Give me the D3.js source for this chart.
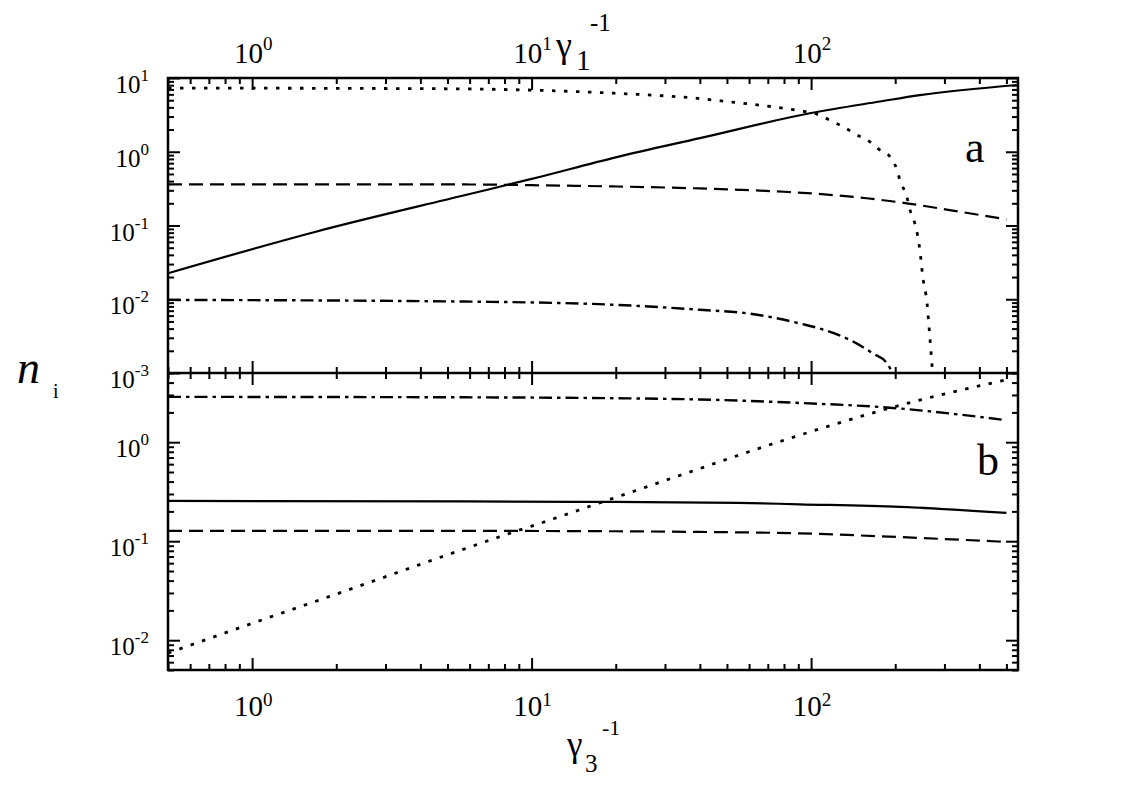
<!DOCTYPE html>
<html><head><meta charset="utf-8">
<script src="https://cdn.jsdelivr.net/npm/d3@7"></script>
</head><body style="margin:0;background:#fff">
<svg id="c" width="1132" height="789"></svg>
<script>
// ---------- data ----------
const xDomain = [0.5, 550];
const yDomainA = [0.001, 10];
const yDomainB = [0.005, 5];
const xMajorTicks = [1, 10, 100];
const xTickLabels = ["0", "1", "2"];            // exponents of 10
const yMajorTicksA = [10, 1, 0.1, 0.01, 0.001];
const yTickLabelsA = ["1", "0", "-1", "-2", "-3"];
const yMajorTicksB = [1, 0.1, 0.01];
const yTickLabelsB = ["0", "-1", "-2"];

// panel a
const aSolidX   = [0.5, 1.69, 5.8, 10, 20, 40, 100, 176, 245, 550];
const aSolidY   = [0.0225, 0.0824, 0.259, 0.428, 0.84, 1.53, 3.35, 4.8, 5.87, 8.04];
const aDotX     = [0.5, 3, 6, 10, 20, 37, 50, 90, 103, 120, 130, 146, 162, 176, 194, 203, 208, 220, 226, 235, 241, 245, 251, 260, 266, 271, 272];
const aDotY     = [7.3, 7.2, 7.1, 6.85, 6.2, 5.4, 4.8, 3.62, 3.3, 2.55, 2.19, 1.69, 1.37, 1.06, 0.81, 0.566, 0.41, 0.246, 0.162, 0.107, 0.0705, 0.0466, 0.0202, 0.0088, 0.0031, 0.00122, 0.001];
const aDashX    = [0.5, 5.8, 10, 20, 40, 55, 80, 158, 220, 313, 500];
const aDashY    = [0.362, 0.36, 0.352, 0.338, 0.318, 0.305, 0.287, 0.234, 0.200, 0.162, 0.121];
const aDashDotX = [0.5, 5.8, 20, 40, 60, 91, 120, 146, 166, 187, 196];
const aDashDotY = [0.0098, 0.0093, 0.0084, 0.0072, 0.0064, 0.0047, 0.0035, 0.0025, 0.00185, 0.00135, 0.001];

// panel b
const bDotX     = [0.5, 1, 2, 5.5, 8.86, 10, 18, 40, 55, 100, 208, 493];
const bDotY     = [0.0074, 0.0148, 0.0292, 0.080, 0.127, 0.142, 0.25, 0.542, 0.739, 1.28, 2.36, 4.23];
const bDashDotX = [0.5, 5.8, 20, 40, 91, 208, 313, 500];
const bDashDotY = [2.87, 2.84, 2.78, 2.70, 2.49, 2.19, 1.95, 1.67];
const bSolidX   = [0.5, 5.8, 20, 55, 91, 208, 500];
const bSolidY   = [0.255, 0.252, 0.249, 0.244, 0.236, 0.222, 0.193];
const bDashX    = [0.5, 5.8, 20, 40, 91, 208, 500];
const bDashY    = [0.127, 0.127, 0.126, 0.124, 0.120, 0.110, 0.0984];

// ---------- layout ----------
const FONT = "Liberation Serif";
const L = 168, R = 1018, T = 78, M = 373, B = 670;
const svg = d3.select("#c");
const x  = d3.scaleLog().domain(xDomain).range([L, R]);
const yA = d3.scaleLog().domain(yDomainA).range([M, T]);
const yB = d3.scaleLog().domain(yDomainB).range([B, M]);

const isMajor = v => Math.abs(Math.log10(v) - Math.round(Math.log10(v))) < 1e-6;
const xMinor  = x.ticks().filter(v => !isMajor(v));
const yAMinor = yA.ticks().filter(v => !isMajor(v));
const yBMinor = yB.ticks().filter(v => !isMajor(v));

function ticks(axisFn, scale, vals, size, tx, ty) {
  svg.append("g").attr("transform", `translate(${tx},${ty})`)
    .call(axisFn(scale).tickValues(vals).tickSize(size).tickFormat(""))
    .call(g => g.select(".domain").remove())
    .selectAll("line").attr("stroke", "#000").attr("stroke-width", 2);
}
const MAJ = 12, MIN = 6;
[[d3.axisTop, T], [d3.axisBottom, B], [d3.axisBottom, M], [d3.axisTop, M]].forEach(([f, y]) => {
  ticks(f, x, xMajorTicks, -MAJ, 0, y);
  ticks(f, x, xMinor, -MIN, 0, y);
});
[[yA, yMajorTicksA, yAMinor], [yB, yMajorTicksB, yBMinor]].forEach(([s, maj, mn]) => {
  ticks(d3.axisLeft, s, maj, -MAJ, L, 0);
  ticks(d3.axisLeft, s, mn, -MIN, L, 0);
  ticks(d3.axisRight, s, maj, -MAJ, R, 0);
  ticks(d3.axisRight, s, mn, -MIN, R, 0);
});

// frame
svg.append("rect").attr("x", L).attr("y", T).attr("width", R - L).attr("height", B - T)
  .attr("fill", "none").attr("stroke", "#000").attr("stroke-width", 2.5);
svg.append("line").attr("x1", L).attr("x2", R).attr("y1", M).attr("y2", M)
  .attr("stroke", "#000").attr("stroke-width", 2.5);

const defs = svg.append("defs");
defs.append("clipPath").attr("id", "clipA").append("rect").attr("x", L).attr("y", T).attr("width", R - L).attr("height", M - T);
defs.append("clipPath").attr("id", "clipB").append("rect").attr("x", L).attr("y", M).attr("width", R - L).attr("height", B - M);

function series(xs, ys, yScale, clip, dash, w) {
  const data = xs.map((v, i) => [v, ys[i]]);
  const line = d3.line().x(d => x(d[0])).y(d => yScale(d[1])).curve(d3.curveMonotoneX);
  svg.append("path").datum(data).attr("d", line).attr("clip-path", `url(#${clip})`)
    .attr("fill", "none").attr("stroke", "#000").attr("stroke-width", w)
    .attr("stroke-dasharray", dash);
}
const SOLID = null, DASH = "14,7", DOT = "3.5,8.5", DASHDOT = "13,5,3.5,5";
series(aSolidX, aSolidY, yA, "clipA", SOLID, 2.2);
series(aDotX, aDotY, yA, "clipA", DOT, 2.8);
series(aDashX, aDashY, yA, "clipA", DASH, 2.2);
series(aDashDotX, aDashDotY, yA, "clipA", DASHDOT, 2.4);
series(bDotX, bDotY, yB, "clipB", DOT, 2.8);
series(bDashDotX, bDashDotY, yB, "clipB", DASHDOT, 2.4);
series(bSolidX, bSolidY, yB, "clipB", SOLID, 2.2);
series(bDashX, bDashY, yB, "clipB", DASH, 2.2);

// ---------- labels ----------
function txt(px, py, s, fs, italic) {
  const t = svg.append("text").attr("x", px).attr("y", py)
    .attr("font-family", FONT).attr("font-size", fs).attr("fill", "#000").text(s);
  if (italic) t.attr("font-style", "italic");
  return t;
}
function powLabel(px, py, exp, anchor, fs, sfs, raise) {
  const t = svg.append("text").attr("x", px).attr("y", py).attr("text-anchor", anchor)
    .attr("font-family", FONT).attr("font-size", fs).attr("fill", "#000");
  t.append("tspan").text("10");
  t.append("tspan").attr("dy", -raise).attr("font-size", sfs).text(exp);
}
xMajorTicks.forEach((v, i) => {
  powLabel(x(v) + 1, 63, xTickLabels[i], "middle", 29, 19, 13);
  powLabel(x(v) + 1, 716, xTickLabels[i], "middle", 29, 19, 10);
});
yMajorTicksA.forEach((v, i) => powLabel(149, yA(v) + 15, yTickLabelsA[i], "end", 25, 17, 12));
yMajorTicksB.forEach((v, i) => powLabel(149, yB(v) + 15, yTickLabelsB[i], "end", 25, 17, 12));

// top axis title  γ1^-1
txt(556, 57, "γ", 36);
txt(576, 70, "1", 29);
txt(590, 31, "-1", 25);
// bottom axis title γ3^-1
txt(567, 756, "γ", 35);
txt(585, 772, "3", 25);
txt(602, 735, "-1", 22);
// y axis title n_i
txt(17, 383, "n", 46, true);
txt(53, 398, "i", 20);
// panel letters
txt(965, 162, "a", 44);
txt(977, 475, "b", 44);
</script>
</body></html>
